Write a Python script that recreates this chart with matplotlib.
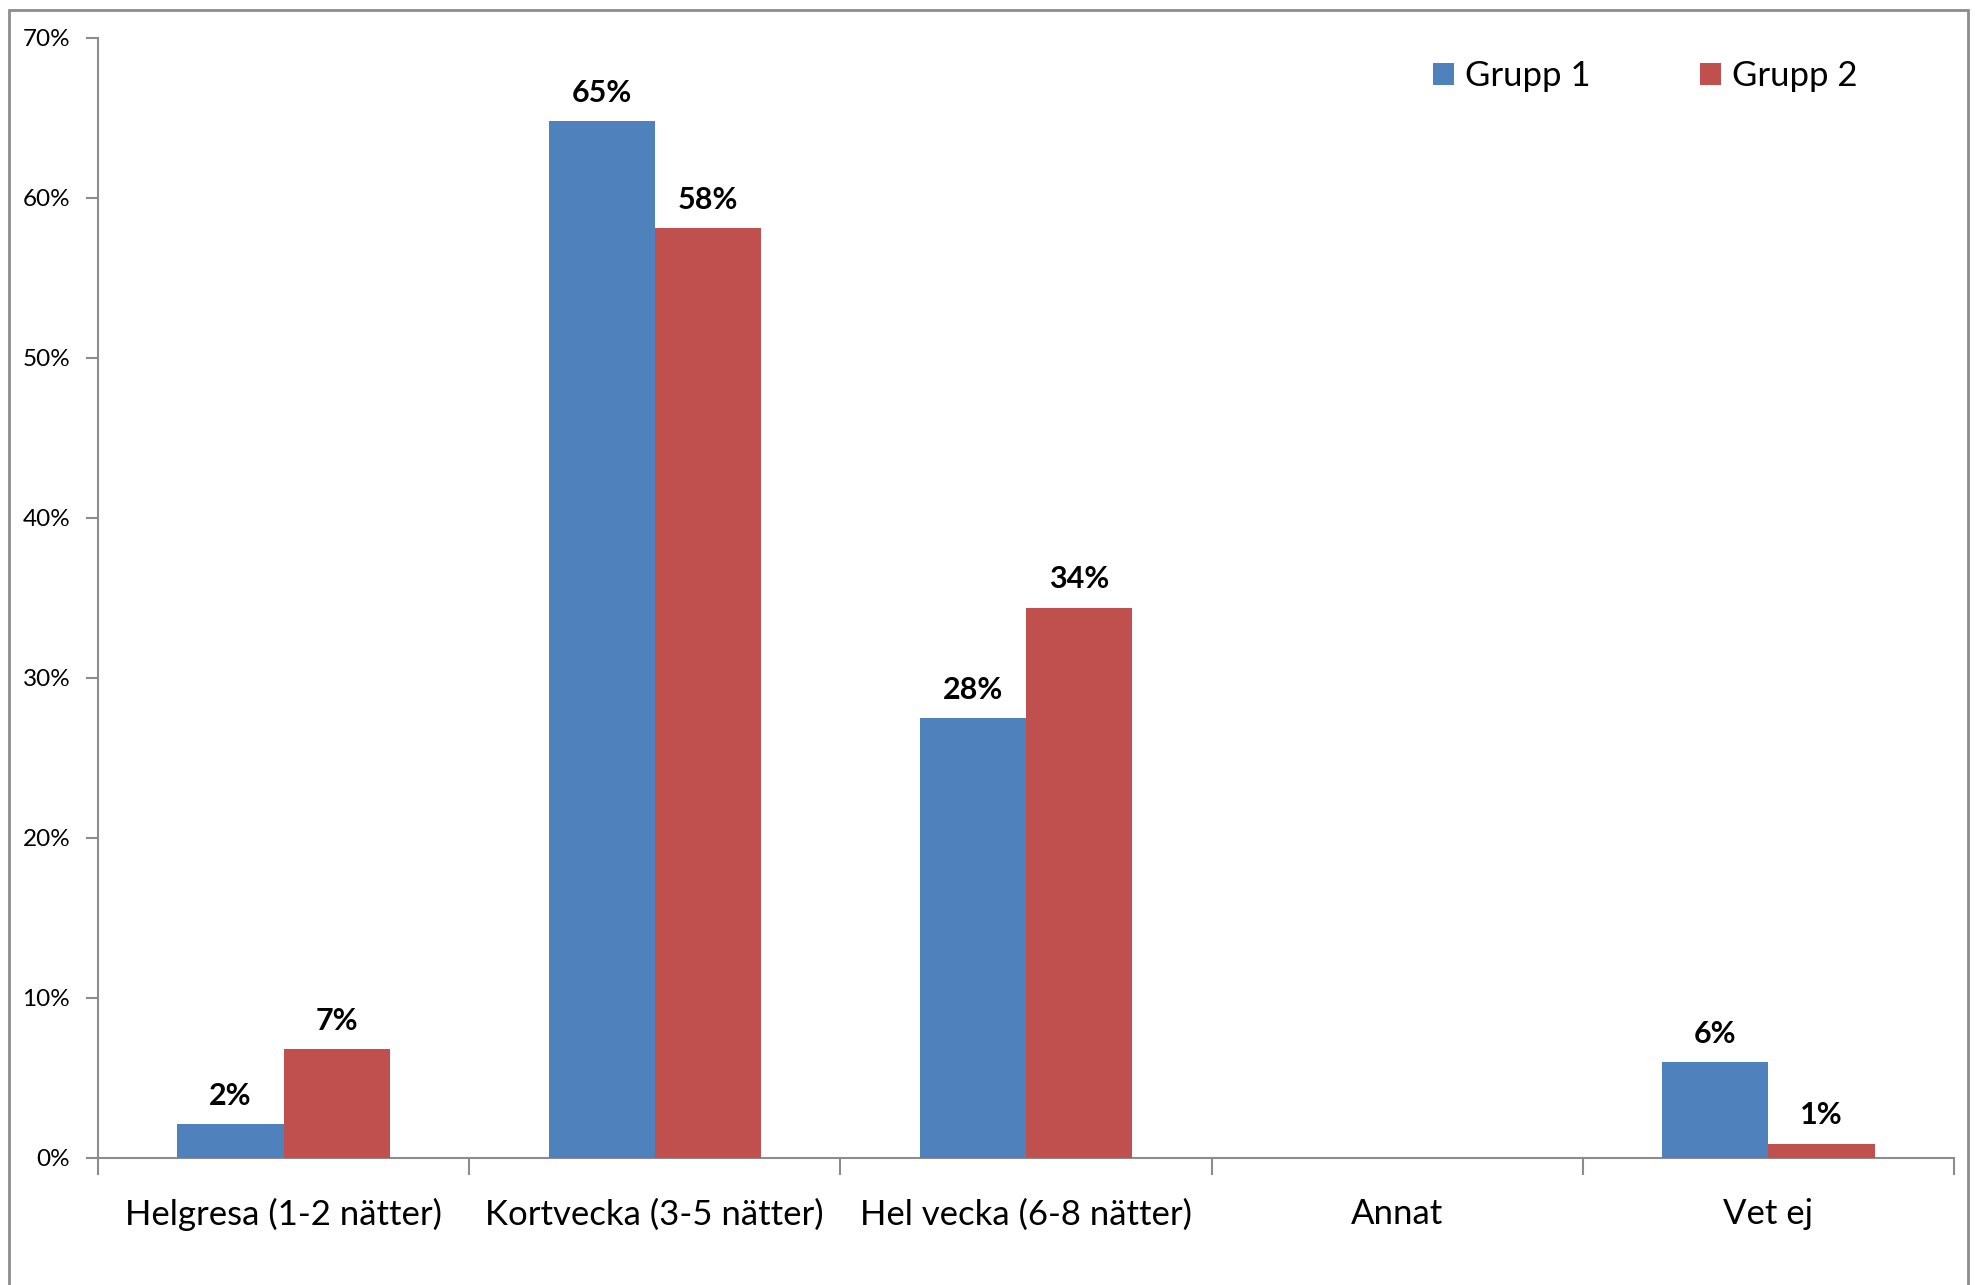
import matplotlib
matplotlib.use("Agg")
import matplotlib.pyplot as plt
import matplotlib.patches as mpatches
import numpy as np

categories = ["Helgresa (1-2 nätter)", "Kortvecka (3-5 nätter)", "Hel vecka (6-8 nätter)", "Annat", "Vet ej"]
series_names = ["Grupp 1", "Grupp 2"]
grupp1 = [2.1, 64.8, 27.5, np.nan, 6.0]
grupp2 = [6.8, 58.1, 34.4, np.nan, 0.9]
yticks = [0, 10, 20, 30, 40, 50, 60, 70]

colors = ["#4F81BD", "#C0504D"]
font = ["Lato", "DejaVu Sans"]
plt.rcParams['font.family'] = font

W, H = 1975, 1285
fig = plt.figure(figsize=(W / 100, H / 100), dpi=100)
ax = fig.add_axes([98 / W, 1 - 1158 / H, (1954 - 98) / W, (1158 - 38) / H])

# outer chart frame
fig.patches.append(mpatches.Rectangle((9 / W, -0.05), (1968 - 9) / W, 1.05 - 10 / H,
                                      transform=fig.transFigure, fill=False,
                                      edgecolor="#8C8C8C", linewidth=2))

x = np.arange(len(categories))
bw = 0.286
for i, (vals, c, name) in enumerate(zip([grupp1, grupp2], colors, series_names)):
    pos = x + (i - 0.5) * bw
    v = np.nan_to_num(np.array(vals, dtype=float))
    ax.bar(pos, v, width=bw, color=c, label=name, zorder=3, edgecolor="none")
    for p, val in zip(pos, vals):
        if np.isnan(val):
            continue
        ax.text(p, val + 0.9, f"{val:.0f}%", ha="center", va="bottom",
                fontsize=22, fontweight="bold", color="black")

ax.set_xlim(-0.5, len(categories) - 0.5)
ax.set_ylim(0, 70)
ax.set_yticks(yticks)
ax.set_yticklabels([f"{t}%" for t in yticks], fontsize=17.5)
ax.set_xticks(x)
ax.set_xticklabels(categories, fontsize=25)
ax.tick_params(axis="x", length=0, pad=29)
ax.tick_params(axis="y", length=9, width=1.5, color="#8C8C8C", pad=11)
# category separator ticks
ax.set_xticks(np.arange(len(categories) + 1) - 0.5, minor=True)
ax.tick_params(axis="x", which="minor", length=12, width=1.5, color="#8C8C8C", direction="out")

for s in ["top", "right"]:
    ax.spines[s].set_visible(False)
for s in ["left", "bottom"]:
    ax.spines[s].set_color("#8C8C8C")
    ax.spines[s].set_linewidth(1.5)

leg = fig.legend(loc="center left", bbox_to_anchor=(1433 / W, 1 - 76 / H),
                 ncol=2, frameon=False, fontsize=25, handlelength=0.6, handleheight=0.6,
                 handletextpad=0.32, columnspacing=3.15, borderaxespad=0, borderpad=0)

fig.savefig("out.png", dpi=100, facecolor="white")
